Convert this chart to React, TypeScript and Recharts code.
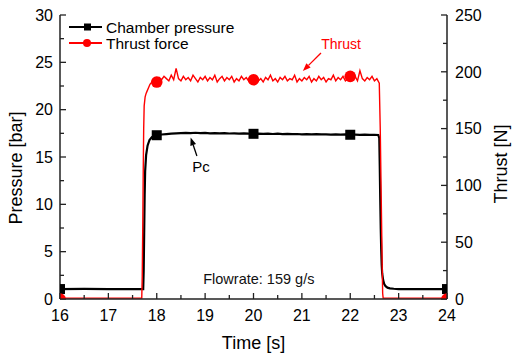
import React from 'react';
import {
  ComposedChart,
  Label,
  Legend,
  Line,
  ReferenceDot,
  ReferenceLine,
  Scatter,
  XAxis,
  YAxis,
} from 'recharts';

const FONT = '"Liberation Sans", Arial, sans-serif';
const AXIS = '#222';
const BLACK = '#000000';
const RED = '#ff0000';

// chart layout
const W = 513;
const H = 355;
const TOP = 15;
const LEFT_W = 60;
const RIGHT_W = 66;
const BOTTOM_H = 56;

const timeTicks = [16, 16.5, 17, 17.5, 18, 18.5, 19, 19.5, 20, 20.5, 21, 21.5, 22, 22.5, 23, 23.5, 24];
const pressureTicks = [0, 2.5, 5, 7.5, 10, 12.5, 15, 17.5, 20, 22.5, 25, 27.5, 30];
const thrustTicks = [0, 25, 50, 75, 100, 125, 150, 175, 200, 225, 250];

// chamber pressure [bar] as [time s, value]
const pressureTrace: [number, number][] = [
  [16.0, 1.05], [16.5, 1.06], [17.0, 1.04], [17.5, 1.05], [17.72, 1.05],
  [17.73, 3], [17.74, 7], [17.75, 11], [17.76, 13.5], [17.78, 15.2], [17.81, 16.2],
  [17.85, 16.8], [17.9, 17.1], [17.95, 17.25],
  [18.0, 17.3], [18.1, 17.38], [18.2, 17.42], [18.3, 17.46], [18.4, 17.5], [18.5, 17.52],
  [18.6, 17.55], [18.7, 17.53], [18.8, 17.56], [18.9, 17.52], [19.0, 17.54], [19.1, 17.5],
  [19.2, 17.53], [19.3, 17.49], [19.4, 17.52], [19.5, 17.48], [19.6, 17.5], [19.7, 17.47],
  [19.8, 17.49], [19.9, 17.46], [20.0, 17.45], [20.1, 17.47], [20.2, 17.44], [20.3, 17.46],
  [20.4, 17.43], [20.5, 17.46], [20.6, 17.42], [20.7, 17.44], [20.8, 17.41], [20.9, 17.43],
  [21.0, 17.4], [21.1, 17.42], [21.2, 17.39], [21.3, 17.41], [21.4, 17.38], [21.5, 17.4],
  [21.6, 17.37], [21.7, 17.39], [21.8, 17.36], [21.9, 17.38], [22.0, 17.35], [22.1, 17.37],
  [22.2, 17.34], [22.3, 17.36], [22.4, 17.33], [22.5, 17.35], [22.58, 17.33],
  [22.6, 17.0], [22.61, 14], [22.62, 10.5], [22.63, 7.5], [22.64, 5.2], [22.65, 3.6],
  [22.66, 2.7], [22.68, 2.0], [22.7, 1.6], [22.73, 1.35], [22.77, 1.2], [22.82, 1.12],
  [22.9, 1.08], [23.0, 1.05], [23.5, 1.04], [24.0, 1.05],
];

// thrust force [N] as [time s, value]
const thrustTrace: [number, number][] = [
  [16.0, 0.8], [17.0, 0.8], [17.69, 0.8], [17.7, 20], [17.71, 60], [17.72, 110], [17.73, 150],
  [17.74, 170], [17.76, 178], [17.78, 181], [17.8, 183], [17.83, 186], [17.86, 189],
  [17.9, 191], [17.95, 192],
  [18.0, 192], [18.05, 195], [18.1, 193], [18.15, 196], [18.2, 194], [18.25, 192],
  [18.3, 197], [18.35, 193], [18.4, 203], [18.45, 194], [18.5, 192], [18.55, 196],
  [18.6, 193], [18.65, 195], [18.7, 192], [18.75, 197], [18.8, 194], [18.85, 191],
  [18.9, 195], [18.95, 193], [19.0, 196], [19.05, 192], [19.1, 195], [19.15, 193],
  [19.2, 197], [19.25, 191], [19.3, 194], [19.35, 196], [19.4, 192], [19.45, 195],
  [19.5, 193], [19.55, 196], [19.6, 191], [19.65, 194], [19.7, 192], [19.75, 196],
  [19.8, 193], [19.85, 195], [19.9, 192], [19.95, 194], [20.0, 193], [20.05, 196],
  [20.1, 192], [20.15, 194], [20.2, 191], [20.25, 195], [20.3, 193], [20.35, 197],
  [20.4, 192], [20.45, 194], [20.5, 191], [20.55, 195], [20.6, 193], [20.65, 196],
  [20.7, 192], [20.75, 194], [20.8, 193], [20.85, 197], [20.9, 191], [20.95, 194],
  [21.0, 192], [21.05, 195], [21.1, 193], [21.15, 196], [21.2, 191], [21.25, 194],
  [21.3, 192], [21.35, 196], [21.4, 193], [21.45, 195], [21.5, 191], [21.55, 194],
  [21.6, 193], [21.65, 197], [21.7, 192], [21.75, 195], [21.8, 193], [21.85, 196],
  [21.9, 192], [21.95, 194], [22.0, 195], [22.05, 193], [22.1, 196], [22.15, 192],
  [22.2, 201], [22.25, 194], [22.3, 192], [22.35, 195], [22.4, 193], [22.45, 196],
  [22.5, 192], [22.55, 194],
  [22.6, 190], [22.62, 150], [22.64, 90], [22.66, 30], [22.67, 5], [22.68, 0.8], [24.0, 0.8],
];

const markerTime = [16, 18, 20, 22, 24];
const pressureMarkerValue = [1.05, 17.3, 17.45, 17.35, 1.05];
const thrustMarkerValue = [0, 191, 193, 196, 0];

const legendItems = [
  { name: 'Chamber pressure', color: BLACK, marker: 'square' },
  { name: 'Thrust force', color: RED, marker: 'circle' },
];

const toRows = (pairs: [number, number][]) => pairs.map(([t, v]) => ({ t, v }));
const pressureData = toRows(pressureTrace);
const thrustData = toRows(thrustTrace);
const pressureMarkers = markerTime.map((t, i) => ({ t, v: pressureMarkerValue[i] }));
const thrustMarkers = markerTime.map((t, i) => ({ t, v: thrustMarkerValue[i] }));

const BottomTick = (props: any) => {
  const { x, y, payload } = props;
  const major = Number.isInteger(payload.value);
  return (
    <g>
      <line x1={x} x2={x} y1={y} y2={y - (major ? 6 : 4)} stroke={AXIS} strokeWidth={1.3} />
      {major && (
        <text x={x} y={y + 22} textAnchor="middle" fontSize={16} fill="#000">
          {payload.value}
        </text>
      )}
    </g>
  );
};

const TopTick = (props: any) => {
  const { x, y, payload } = props;
  const major = Number.isInteger(payload.value);
  return <line x1={x} x2={x} y1={y} y2={y + (major ? 6 : 4)} stroke={AXIS} strokeWidth={1.3} />;
};

const LeftTick = (props: any) => {
  const { x, y, payload } = props;
  const major = payload.value % 5 === 0;
  return (
    <g>
      <line x1={x} x2={x + (major ? 6 : 4)} y1={y} y2={y} stroke={AXIS} strokeWidth={1.3} />
      {major && (
        <text x={x - 7} y={y} dy="0.36em" textAnchor="end" fontSize={16} fill="#000">
          {payload.value}
        </text>
      )}
    </g>
  );
};

const RightTick = (props: any) => {
  const { x, y, payload } = props;
  const major = payload.value % 50 === 0;
  return (
    <g>
      <line x1={x} x2={x - (major ? 6 : 4)} y1={y} y2={y} stroke={AXIS} strokeWidth={1.3} />
      {major && (
        <text x={x + 8} y={y} dy="0.36em" textAnchor="start" fontSize={16} fill="#000">
          {payload.value}
        </text>
      )}
    </g>
  );
};

const SquareMark = (props: any) => {
  const { cx, cy } = props;
  if (cx == null || cy == null) return null;
  return <rect x={cx - 5} y={cy - 5} width={10} height={10} fill={BLACK} clipPath="url(#plotClip)" />;
};

const CircleMark = (props: any) => {
  const { cx, cy } = props;
  if (cx == null || cy == null) return null;
  return <circle cx={cx} cy={cy} r={5.8} fill={RED} clipPath="url(#plotClip)" />;
};

const arrowShape = (color: string) => (props: any) => {
  const { x1, y1, x2, y2 } = props;
  const ang = Math.atan2(y2 - y1, x2 - x1);
  const len = 8;
  const half = 3;
  const bx = x2 - len * Math.cos(ang);
  const by = y2 - len * Math.sin(ang);
  const px = -Math.sin(ang) * half;
  const py = Math.cos(ang) * half;
  return (
    <g>
      <line x1={x1} y1={y1} x2={bx} y2={by} stroke={color} strokeWidth={1.3} />
      <polygon points={`${x2},${y2} ${bx + px},${by + py} ${bx - px},${by - py}`} fill={color} />
    </g>
  );
};

const textShape = (text: string, color: string, size: number) => (props: any) => (
  <text x={props.cx} y={props.cy} dy="0.36em" textAnchor="middle" fontSize={size} fill={color}>
    {text}
  </text>
);

const LegendBox = () => (
  <svg width={180} height={38}>
    {legendItems.map((item, i) => {
      const cy = 9 + i * 16;
      return (
        <g key={item.name}>
          <line x1={3} x2={36} y1={cy} y2={cy} stroke={item.color} strokeWidth={1.8} />
          {item.marker === 'square' ? (
            <rect x={18} y={cy - 3.5} width={7} height={7} fill={item.color} />
          ) : (
            <circle cx={21} cy={cy} r={4} fill={item.color} />
          )}
          <text x={40} y={cy} dy="0.36em" fontSize={15.5} fill="#000">
            {item.name}
          </text>
        </g>
      );
    })}
  </svg>
);

export default function App() {
  return (
    <div style={{ position: 'absolute', left: 0, top: 0, fontFamily: FONT, background: '#fff' }}>
      <ComposedChart width={W} height={H} margin={{ top: TOP, right: 0, bottom: 0, left: 0 }}>
        <defs>
          <clipPath id="plotClip">
            <rect x={LEFT_W} y={TOP} width={W - LEFT_W - RIGHT_W} height={H - TOP - BOTTOM_H} />
          </clipPath>
        </defs>
        <XAxis
          xAxisId="b"
          dataKey="t"
          type="number"
          domain={[16, 24]}
          ticks={timeTicks}
          interval={0}
          allowDataOverflow
          height={BOTTOM_H}
          tickSize={0}
          tickMargin={0}
          tick={<BottomTick />}
          axisLine={{ stroke: AXIS, strokeWidth: 1.5 }}
        >
          <Label
            content={(p: any) => (
              <text x={p.viewBox.x + p.viewBox.width / 2} y={p.viewBox.y + 50} textAnchor="middle" fontSize={18} fill="#000">
                Time [s]
              </text>
            )}
          />
        </XAxis>
        <XAxis
          xAxisId="top"
          orientation="top"
          dataKey="t"
          type="number"
          domain={[16, 24]}
          ticks={timeTicks}
          interval={0}
          allowDataOverflow
          height={0}
          tickSize={0}
          tickMargin={0}
          tick={<TopTick />}
          axisLine={{ stroke: AXIS, strokeWidth: 1.5 }}
        />
        <YAxis
          yAxisId="p"
          dataKey="v"
          type="number"
          domain={[0, 30]}
          ticks={pressureTicks}
          interval={0}
          allowDataOverflow
          width={LEFT_W}
          tickSize={0}
          tickMargin={0}
          tick={<LeftTick />}
          axisLine={{ stroke: AXIS, strokeWidth: 1.5 }}
        >
          <Label
            content={(p: any) => {
              const cx = p.viewBox.x + 16;
              const cy = p.viewBox.y + p.viewBox.height / 2 + 11;
              return (
                <text x={cx} y={cy} dy="0.36em" transform={`rotate(-90 ${cx} ${cy})`} textAnchor="middle" fontSize={18} fill="#000">
                  Pressure [bar]
                </text>
              );
            }}
          />
        </YAxis>
        <YAxis
          yAxisId="f"
          orientation="right"
          dataKey="v"
          type="number"
          domain={[0, 250]}
          ticks={thrustTicks}
          interval={0}
          allowDataOverflow
          width={RIGHT_W}
          tickSize={0}
          tickMargin={0}
          tick={<RightTick />}
          axisLine={{ stroke: AXIS, strokeWidth: 1.5 }}
        >
          <Label
            content={(p: any) => {
              const cx = p.viewBox.x + 54;
              const cy = p.viewBox.y + p.viewBox.height / 2 + 7;
              return (
                <text x={cx} y={cy} dy="0.36em" transform={`rotate(-90 ${cx} ${cy})`} textAnchor="middle" fontSize={18} fill="#000">
                  Thrust [N]
                </text>
              );
            }}
          />
        </YAxis>

        <Line
          xAxisId="b"
          yAxisId="p"
          data={pressureData}
          dataKey="v"
          type="linear"
          stroke={BLACK}
          strokeWidth={2.2}
          dot={false}
          isAnimationActive={false}
        />
        <Scatter
          xAxisId="b"
          yAxisId="p"
          data={pressureMarkers}
          dataKey="v"
          shape={<SquareMark />}
          fill={BLACK}
          isAnimationActive={false}
        />
        <Line
          xAxisId="b"
          yAxisId="f"
          data={thrustData}
          dataKey="v"
          type="linear"
          stroke={RED}
          strokeWidth={1.4}
          dot={false}
          isAnimationActive={false}
        />
        <Scatter
          xAxisId="b"
          yAxisId="f"
          data={thrustMarkers}
          dataKey="v"
          shape={<CircleMark />}
          fill={RED}
          isAnimationActive={false}
        />

        <ReferenceLine
          xAxisId="b"
          yAxisId="p"
          segment={[{ x: 21.395, y: 25.99 }, { x: 21.02, y: 24.08 }]}
          shape={arrowShape(RED)}
        />
        <ReferenceLine
          xAxisId="b"
          yAxisId="p"
          segment={[{ x: 18.83, y: 15.11 }, { x: 18.7, y: 17.06 }]}
          shape={arrowShape(BLACK)}
        />
        <ReferenceDot xAxisId="b" yAxisId="p" x={21.81} y={26.94} r={0} shape={textShape('Thrust', RED, 14)} />
        <ReferenceDot xAxisId="b" yAxisId="p" x={18.915} y={13.94} r={0} shape={textShape('Pc', '#000', 15)} />
        <ReferenceDot xAxisId="b" yAxisId="p" x={20.11} y={2.11} r={0} shape={textShape('Flowrate: 159 g/s', '#111', 14.5)} />

        <Legend
          layout="vertical"
          align="center"
          verticalAlign="middle"
          wrapperStyle={{ top: 18, left: 66, width: 180 }}
          content={<LegendBox />}
        />
      </ComposedChart>
    </div>
  );
}
